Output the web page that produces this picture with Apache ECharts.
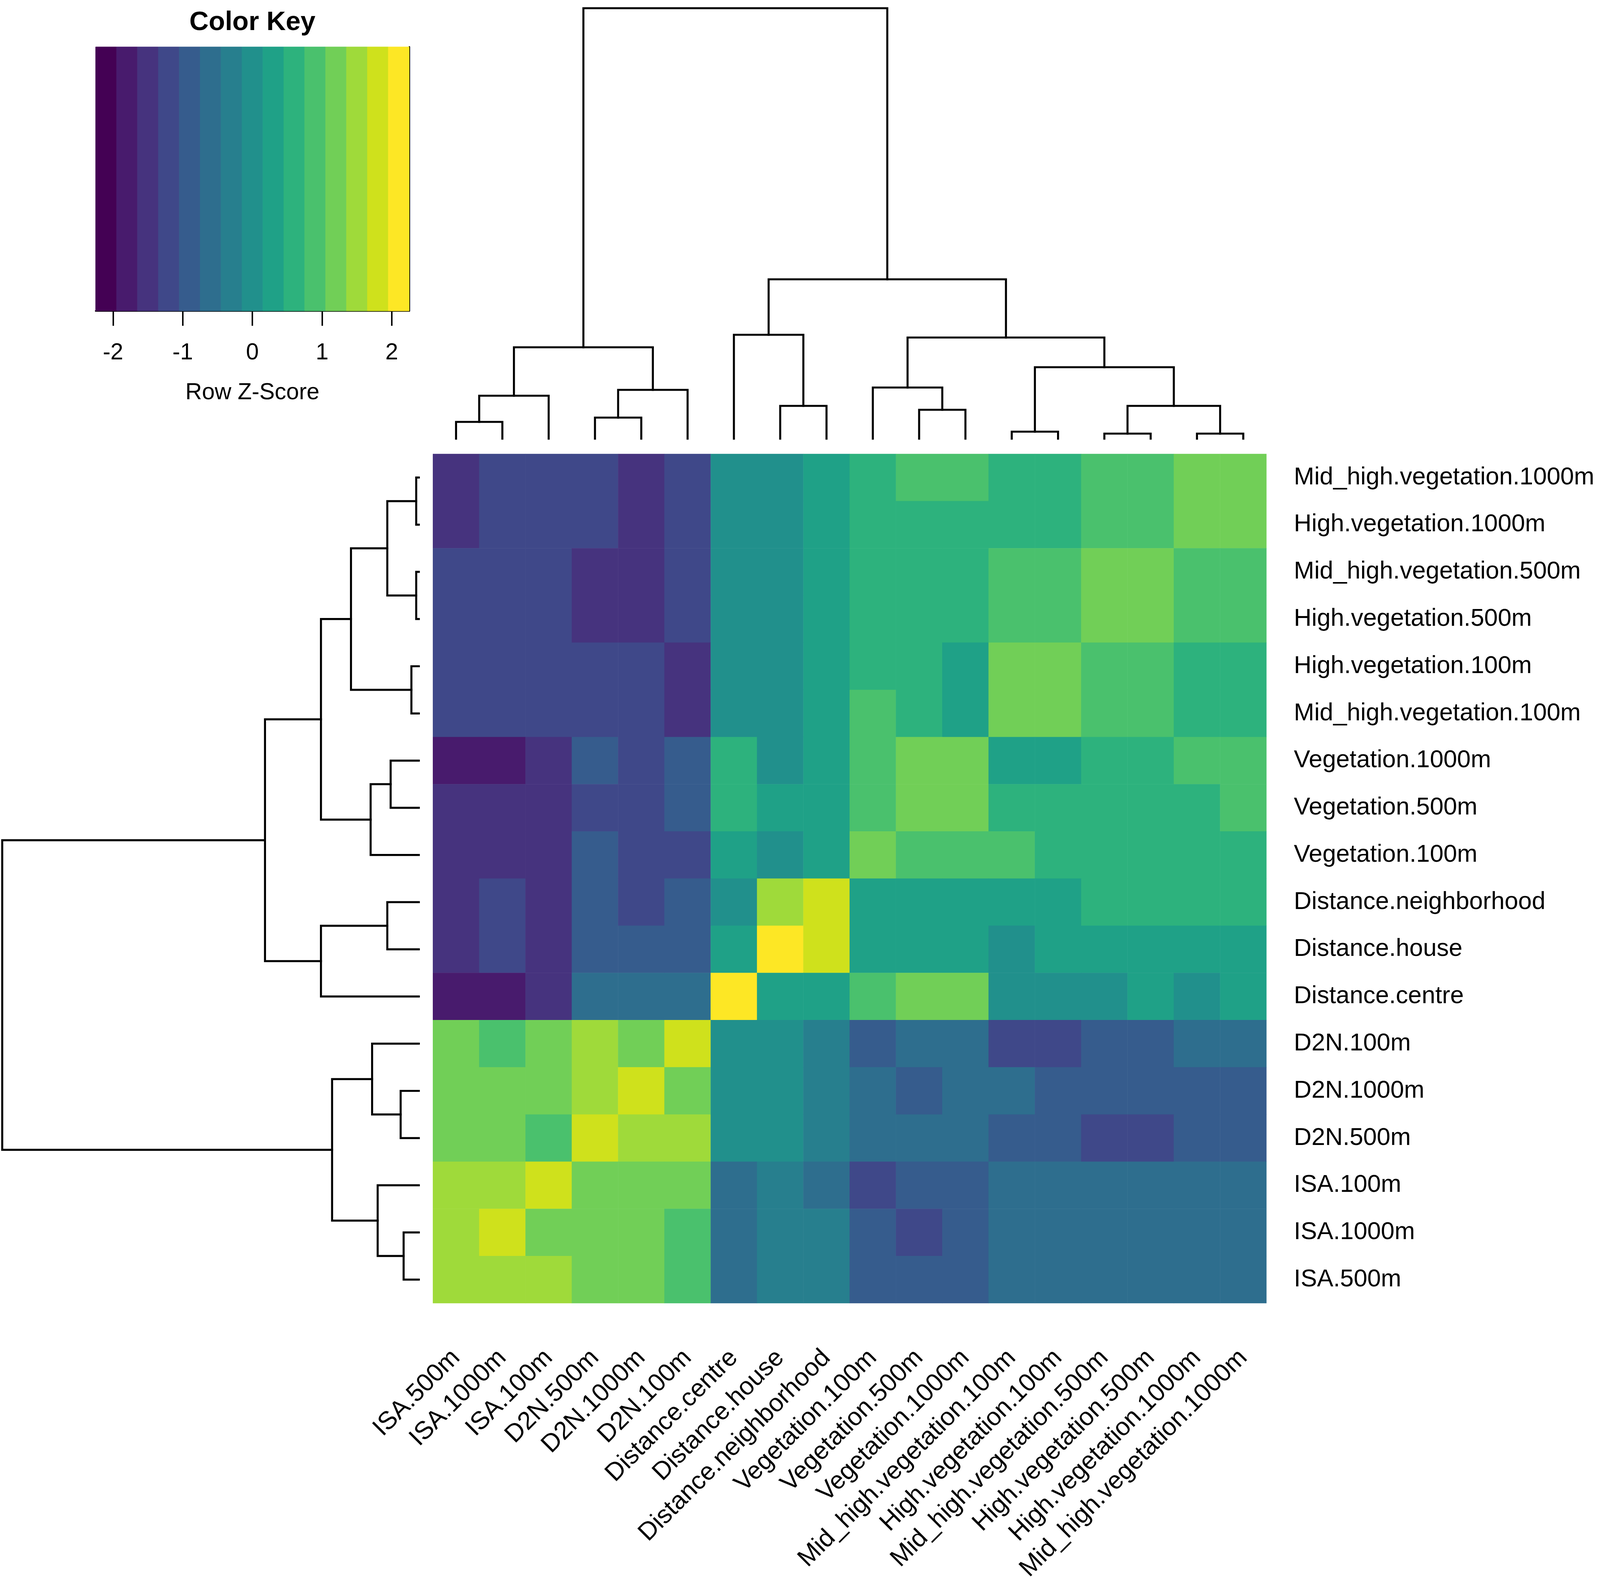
<!DOCTYPE html>
<html><head><meta charset="utf-8">
<script src="https://cdn.jsdelivr.net/npm/echarts@6/dist/echarts.min.js"></script>
<style>html,body{margin:0;padding:0;background:#fff;overflow:hidden}#c{width:100vw;height:100vh}</style>
</head><body><div id="c"></div>
<script>
// ---------- data ----------
const colLabels = ["ISA.500m","ISA.1000m","ISA.100m","D2N.500m","D2N.1000m","D2N.100m",
  "Distance.centre","Distance.house","Distance.neighborhood","Vegetation.100m","Vegetation.500m",
  "Vegetation.1000m","Mid_high.vegetation.100m","High.vegetation.100m","Mid_high.vegetation.500m",
  "High.vegetation.500m","High.vegetation.1000m","Mid_high.vegetation.1000m"];
const rowLabels = ["Mid_high.vegetation.1000m","High.vegetation.1000m","Mid_high.vegetation.500m",
  "High.vegetation.500m","High.vegetation.100m","Mid_high.vegetation.100m","Vegetation.1000m",
  "Vegetation.500m","Vegetation.100m","Distance.neighborhood","Distance.house","Distance.centre",
  "D2N.100m","D2N.1000m","D2N.500m","ISA.100m","ISA.1000m","ISA.500m"];
// row z-scores (rows top to bottom, columns in colLabels order)
const zRows = [
  [-1.5,-1.2,-1.2,-1.2,-1.5,-1.2, 0.0, 0.0, 0.3, 0.6, 0.9, 0.9, 0.6, 0.6, 0.9, 0.9, 1.2, 1.2],
  [-1.5,-1.2,-1.2,-1.2,-1.5,-1.2, 0.0, 0.0, 0.3, 0.6, 0.6, 0.6, 0.6, 0.6, 0.9, 0.9, 1.2, 1.2],
  [-1.2,-1.2,-1.2,-1.5,-1.5,-1.2, 0.0, 0.0, 0.3, 0.6, 0.6, 0.6, 0.9, 0.9, 1.2, 1.2, 0.9, 0.9],
  [-1.2,-1.2,-1.2,-1.5,-1.5,-1.2, 0.0, 0.0, 0.3, 0.6, 0.6, 0.6, 0.9, 0.9, 1.2, 1.2, 0.9, 0.9],
  [-1.2,-1.2,-1.2,-1.2,-1.2,-1.5, 0.0, 0.0, 0.3, 0.6, 0.6, 0.3, 1.2, 1.2, 0.9, 0.9, 0.6, 0.6],
  [-1.2,-1.2,-1.2,-1.2,-1.2,-1.5, 0.0, 0.0, 0.3, 0.9, 0.6, 0.3, 1.2, 1.2, 0.9, 0.9, 0.6, 0.6],
  [-1.8,-1.8,-1.5,-0.9,-1.2,-0.9, 0.6, 0.0, 0.3, 0.9, 1.2, 1.2, 0.3, 0.3, 0.6, 0.6, 0.9, 0.9],
  [-1.5,-1.5,-1.5,-1.2,-1.2,-0.9, 0.6, 0.3, 0.3, 0.9, 1.2, 1.2, 0.6, 0.6, 0.6, 0.6, 0.6, 0.9],
  [-1.5,-1.5,-1.5,-0.9,-1.2,-1.2, 0.3, 0.0, 0.3, 1.2, 0.9, 0.9, 0.9, 0.6, 0.6, 0.6, 0.6, 0.6],
  [-1.5,-1.2,-1.5,-0.9,-1.2,-0.9, 0.0, 1.5, 1.8, 0.3, 0.3, 0.3, 0.3, 0.3, 0.6, 0.6, 0.6, 0.6],
  [-1.5,-1.2,-1.5,-0.9,-0.9,-0.9, 0.3, 2.1, 1.8, 0.3, 0.3, 0.3, 0.0, 0.3, 0.3, 0.3, 0.3, 0.3],
  [-1.8,-1.8,-1.5,-0.6,-0.6,-0.6, 2.1, 0.3, 0.3, 0.9, 1.2, 1.2, 0.0, 0.0, 0.0, 0.3, 0.0, 0.3],
  [ 1.2, 0.9, 1.2, 1.5, 1.2, 1.8, 0.0, 0.0,-0.3,-0.9,-0.6,-0.6,-1.2,-1.2,-0.9,-0.9,-0.6,-0.6],
  [ 1.2, 1.2, 1.2, 1.5, 1.8, 1.2, 0.0, 0.0,-0.3,-0.6,-0.9,-0.6,-0.6,-0.9,-0.9,-0.9,-0.9,-0.9],
  [ 1.2, 1.2, 0.9, 1.8, 1.5, 1.5, 0.0, 0.0,-0.3,-0.6,-0.6,-0.6,-0.9,-0.9,-1.2,-1.2,-0.9,-0.9],
  [ 1.5, 1.5, 1.8, 1.2, 1.2, 1.2,-0.6,-0.3,-0.6,-1.2,-0.9,-0.9,-0.6,-0.6,-0.6,-0.6,-0.6,-0.6],
  [ 1.5, 1.8, 1.2, 1.2, 1.2, 0.9,-0.6,-0.3,-0.3,-0.9,-1.2,-0.9,-0.6,-0.6,-0.6,-0.6,-0.6,-0.6],
  [ 1.5, 1.5, 1.5, 1.2, 1.2, 0.9,-0.6,-0.3,-0.3,-0.9,-0.9,-0.9,-0.6,-0.6,-0.6,-0.6,-0.6,-0.6]
];
// colour key
const keyBreaks = [-2.25,-1.95,-1.65,-1.35,-1.05,-0.75,-0.45,-0.15,0.15,0.45,0.75,1.05,1.35,1.65,1.95,2.25];
const keyColors = ["#440154","#481B6D","#46337E","#3F4889","#365C8D","#2E6E8E","#277F8E","#21908C",
  "#1FA187","#2DB27D","#4AC16D","#71CF57","#9FDA3A","#CFE11C","#FDE725"];
const keyTicks = [-2,-1,0,1,2];
// dendrogram (leaf positions in column order; negative = leaf -(pos+1), positive = earlier merge number)
const treeMerges = [[-1,-2],[-4,-5],[-8,-9],[-11,-12],[-13,-14],[-15,-16],[-17,-18],
  [1,-3],[2,-6],[-10,4],[6,7],[5,11],[8,9],[-7,3],[10,12],[14,15],[13,16]];
const colHeights = [0.43,0.54,0.84,0.74,0.18,0.13,0.13,1.10,1.25,1.31,0.84,1.83,2.34,2.66,2.59,4.08,11.02];
const rowHeights = [0.41,0.49,0.85,0.76,0.20,0.07,0.07,1.11,1.26,1.30,0.85,1.83,2.34,2.64,2.64,4.15,11.24];

// ---------- build ----------
const FONT = "'Liberation Sans', Arial, sans-serif";
const el = document.getElementById('c');
const W = el.clientWidth, H = el.clientHeight;
const sx = W / 4317, sy = H / 4083, sf = Math.min(sx, sy);
const X = v => v * sx, Y = v => v * sy, F = v => v * sf;

function dendro(merges, heights, leafPos) {
  const pos = [], segs = [];
  merges.forEach((m, i) => {
    const ch = m.map(c => c < 0 ? {p: leafPos(-c - 1), h: 0} : {p: pos[c - 1], h: heights[c - 1]});
    pos[i] = (ch[0].p + ch[1].p) / 2;
    segs.push([ch[0].p, ch[0].h, ch[1].p, ch[1].h, heights[i]]);
  });
  return segs;
}
const n = colLabels.length;
const colSegs = dendro(treeMerges, colHeights, i => i);
const rowSegs = dendro(treeMerges, rowHeights, i => n - 1 - i).map(s => [s[1], s[0], s[3], s[2], s[4]]);

const heatData = [];
zRows.forEach((row, r) => row.forEach((v, c) => heatData.push([c, r, v])));
const keyData = keyColors.map((c, k) => [keyBreaks[k], keyBreaks[k + 1], (keyBreaks[k] + keyBreaks[k + 1]) / 2]);
const pieces = keyColors.map((c, k) => ({gte: keyBreaks[k], lt: keyBreaks[k + 1], color: c}));
pieces[pieces.length - 1] = {gte: keyBreaks[14], lte: keyBreaks[15], color: keyColors[14]};

const lineStyle = {stroke: '#000', lineWidth: F(5.5), fill: 'none', lineJoin: 'miter', lineCap: 'square'};

const chart = echarts.init(el, null, {renderer: 'canvas'});
chart.setOption({
  animation: false,
  backgroundColor: '#fff',
  textStyle: {fontFamily: FONT},
  graphic: [
    {type: 'text', x: X(681), y: Y(58), style: {text: 'Color Key', font: 'bold ' + F(72) + 'px ' + FONT,
      textAlign: 'center', textVerticalAlign: 'middle', fill: '#000'}}
  ],
  grid: [
    {left: X(1168), top: Y(1162), width: X(2249), height: Y(2174)},
    {left: X(1168), top: Y(21), width: X(2249), height: Y(1102)},
    {left: X(6), top: Y(1162), width: X(1124), height: Y(2174)},
    {left: X(258), top: Y(120), width: X(846), height: Y(676)}
  ],
  xAxis: [
    {type: 'category', gridIndex: 0, data: colLabels, position: 'bottom',
      axisLine: {show: false}, axisTick: {show: false}, splitLine: {show: false},
      axisLabel: {interval: 0, rotate: 45, margin: Y(130), fontSize: F(68), color: '#000', fontFamily: FONT}},
    {type: 'value', gridIndex: 1, min: -0.5, max: n - 0.5, show: false},
    {type: 'value', gridIndex: 2, min: 0, max: rowHeights[rowHeights.length - 1], inverse: true, show: false},
    {type: 'value', gridIndex: 3, min: keyBreaks[0], max: keyBreaks[keyBreaks.length - 1],
      axisLine: {show: true, onZero: false, lineStyle: {color: '#000', width: F(4)}},
      axisTick: {show: true, customValues: keyTicks, length: Y(38), lineStyle: {color: '#000', width: F(4)}},
      axisLabel: {show: true, customValues: keyTicks, margin: Y(78), fontSize: F(62), color: '#000', fontFamily: FONT},
      splitLine: {show: false},
      name: 'Row Z-Score', nameLocation: 'middle', nameGap: Y(180),
      nameTextStyle: {fontSize: F(62), color: '#000', fontFamily: FONT}}
  ],
  yAxis: [
    {type: 'category', gridIndex: 0, data: rowLabels, inverse: true, position: 'right',
      axisLine: {show: false}, axisTick: {show: false}, splitLine: {show: false},
      axisLabel: {interval: 0, margin: X(74), fontSize: F(66), color: '#000', fontFamily: FONT}},
    {type: 'value', gridIndex: 1, min: 0, max: colHeights[colHeights.length - 1], show: false},
    {type: 'value', gridIndex: 2, min: -0.5, max: n - 0.5, inverse: true, show: false},
    {type: 'value', gridIndex: 3, min: 0, max: 1, position: 'right',
      axisLine: {show: true, onZero: false, lineStyle: {color: '#000', width: F(4)}},
      axisTick: {show: false}, axisLabel: {show: false}, splitLine: {show: false}}
  ],
  visualMap: {type: 'piecewise', show: false, dimension: 2, seriesIndex: [0, 3], pieces: pieces},
  series: [
    {type: 'heatmap', xAxisIndex: 0, yAxisIndex: 0, data: heatData,
      itemStyle: {borderWidth: 0}, emphasis: {disabled: true}},
    {type: 'custom', xAxisIndex: 1, yAxisIndex: 1, data: colSegs, clip: false,
      renderItem: (p, api) => ({type: 'polyline', shape: {points: [
        api.coord([api.value(0), api.value(1)]), api.coord([api.value(0), api.value(4)]),
        api.coord([api.value(2), api.value(4)]), api.coord([api.value(2), api.value(3)])]},
        style: lineStyle})},
    {type: 'custom', xAxisIndex: 2, yAxisIndex: 2, data: rowSegs, clip: false,
      renderItem: (p, api) => ({type: 'polyline', shape: {points: [
        api.coord([api.value(0), api.value(1)]), api.coord([api.value(4), api.value(1)]),
        api.coord([api.value(4), api.value(3)]), api.coord([api.value(2), api.value(3)])]},
        style: lineStyle})},
    {type: 'custom', xAxisIndex: 3, yAxisIndex: 3, data: keyData, clip: false,
      renderItem: (p, api) => {
        const a = api.coord([api.value(0), 1]), b = api.coord([api.value(1), 0]);
        const col = api.visual('color');
        return {type: 'rect', shape: {x: a[0], y: a[1], width: b[0] - a[0], height: b[1] - a[1]},
          style: {fill: col, stroke: col, lineWidth: 1}};
      }}
  ]
});
</script></body></html>
